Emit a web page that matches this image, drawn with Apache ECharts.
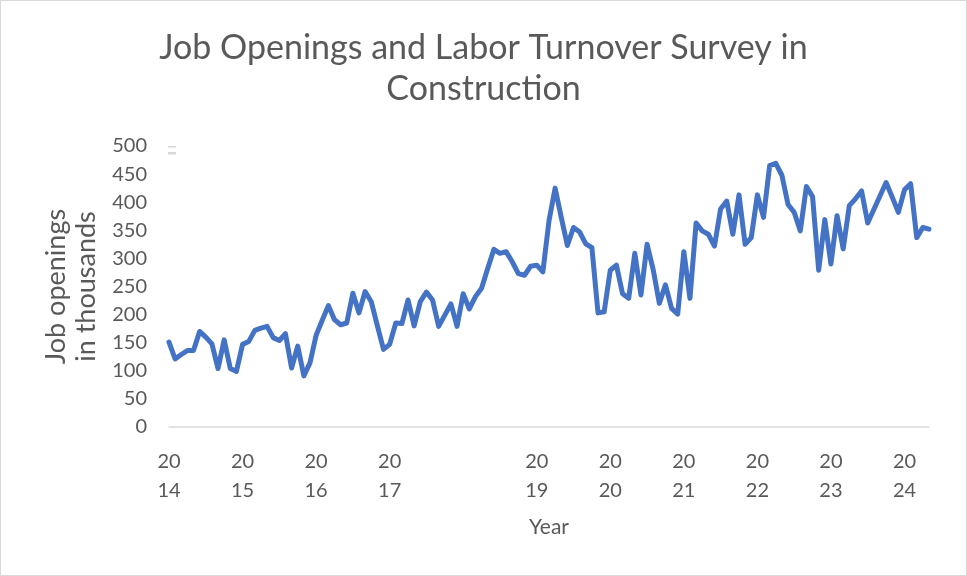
<!DOCTYPE html>
<html>
<head>
<meta charset="utf-8">
<script src="https://cdn.jsdelivr.net/npm/echarts@6/dist/echarts.min.js"></script>
<style>
  html, body { margin: 0; padding: 0; background: #fff; }
  #chart { width: 967px; height: 576px; box-sizing: border-box; border: 1px solid #d9d9d9; }
</style>
</head>
<body>
<div id="chart"></div>
<script>
// monthly job openings in construction, thousands (Jan 2014 - May 2024)
const months = []
for (let y = 2014; y <= 2024; y++) {
  for (let m = 1; m <= 12; m++) {
    if (y === 2024 && m > 5) break
    months.push(y + '-' + (m < 10 ? '0' + m : m))
  }
}

const openings = [
  151, 121, 129, 136, 136, 170, 160, 148, 104, 155, 104, 99,
  147, 152, 172, 176, 179, 159, 154, 166, 105, 144, 91, 114,
  163, 190, 216, 191, 182, 185, 238, 203, 241, 223, 180, 138,
  147, 185, 184, 226, 180, 223, 240, 226, 179, 199, 219, 179,
  237, 210, 232, 247, 282, 316, 309, 312, 294, 273, 270, 286,
  288, 276, 367, 425, 373, 323, 355, 347, 326, 319, 203, 205,
  279, 288, 237, 229, 309, 235, 325, 280, 220, 253, 211, 201,
  312, 229, 363, 349, 343, 322, 388, 402, 343, 413, 325, 337,
  413, 373, 465, 469, 448, 396, 382, 349, 428, 410, 279, 369,
  290, 376, 317, 394, 406, 420, 363, 387, 411, 435, 409, 382,
  422, 433, 337, 355, 352
]

// years that get a label on the axis (2018 has none in the source)
const labelYears = ['2014', '2015', '2016', '2017', '2019', '2020', '2021', '2022', '2023', '2024']

const yTicks = { min: 0, max: 500, step: 50 }

const font = 'Lato, "Open Sans", sans-serif'
const textColor = '#595959'

const chart = echarts.init(document.getElementById('chart'))

const option = {
  animation: false,
  title: {
    text: 'Job Openings and Labor Turnover Survey in\nConstruction',
    left: 'center',
    top: 22,
    textStyle: {
      fontFamily: font,
      fontSize: 34,
      fontWeight: 'normal',
      color: textColor,
      lineHeight: 41,
    },
  },
  grid: {
    left: 168,
    right: 37,
    top: 145,
    bottom: 148,
  },
  xAxis: {
    type: 'category',
    data: months,
    boundaryGap: false,
    name: 'Year',
    nameLocation: 'middle',
    nameGap: 90,
    nameTextStyle: { fontFamily: font, fontSize: 21, color: textColor },
    axisLine: { lineStyle: { color: '#d9d9d9', width: 1.5 } },
    axisTick: { show: false },
    axisLabel: {
      interval: 0,
      margin: 20,
      fontFamily: font,
      fontSize: 20,
      lineHeight: 29,
      color: textColor,
      formatter: function (v) {
        const y = v.slice(0, 4)
        if (v.slice(5) !== '01' || labelYears.indexOf(y) < 0) return ''
        return y.slice(0, 2) + '\n' + y.slice(2)
      },
    },
  },
  yAxis: {
    type: 'value',
    min: yTicks.min,
    max: yTicks.max,
    interval: yTicks.step,
    name: 'Job openings\nin thousands',
    nameLocation: 'middle',
    nameRotate: 90,
    nameGap: 68,
    nameTextStyle: { fontFamily: font, fontSize: 27, color: textColor, lineHeight: 30 },
    axisLine: { show: false },
    axisTick: { show: false },
    splitLine: { show: false },
    axisLabel: {
      margin: 22,
      fontFamily: font,
      fontSize: 20,
      color: textColor,
    },
  },
  graphic: [
    { type: 'rect', shape: { x: 167, y: 145, width: 8, height: 1.5 }, style: { fill: '#d9d9d9' } },
    { type: 'rect', shape: { x: 167, y: 151, width: 8, height: 2.5 }, style: { fill: '#d9d9d9' } },
  ],
  series: [
    {
      type: 'line',
      data: openings,
      showSymbol: false,
      lineStyle: { color: '#4472C4', width: 5, join: 'round', cap: 'round' },
      itemStyle: { color: '#4472C4' },
    },
  ],
}

chart.setOption(option)
</script>
</body>
</html>
